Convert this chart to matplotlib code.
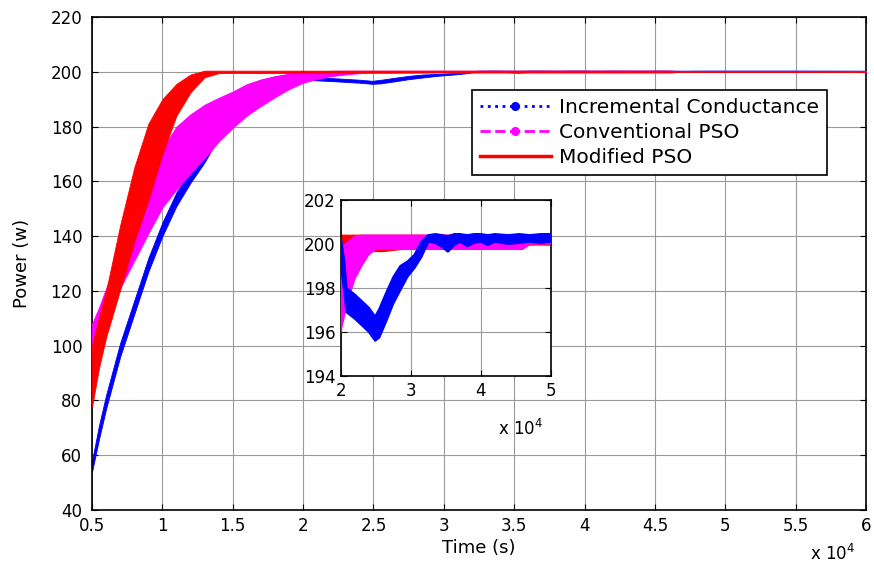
import numpy as np
import matplotlib
matplotlib.use("Agg")
import matplotlib.pyplot as plt
from matplotlib.lines import Line2D

# time stamps in seconds, power in watts (upper / lower envelope of each band)
ic_t = [5000, 5500, 6000, 7000, 8000, 9000, 10000, 11000, 12000, 13000, 14000, 15000,
        16000, 17000, 18000, 19000, 20000, 20500, 20800, 22000, 23000, 24000, 24900,
        25500, 26500, 27500, 28500, 29500, 30500, 31500, 32500, 33500, 34500, 35300,
        36200, 37000, 38100, 39000, 40000, 41000, 42000, 43900, 45500, 47000, 48500,
        50000, 55000, 60000]
ic_hi = [58, 71, 82, 101, 116.5, 132, 145, 156, 164.5, 172, 181, 188.5, 195, 197, 198.3,
         199.2, 200.3, 199.2, 198.0, 197.7, 197.4, 197.1, 196.7, 197.05, 197.8, 198.5,
         199.0, 199.2, 199.5, 200.1, 200.4, 200.45, 200.4, 200.35, 200.45, 200.45, 200.4,
         200.45, 200.45, 200.4, 200.45, 200.4, 200.45, 200.4, 200.45, 200.45, 200.45, 200.4]
ic_lo = [54, 66, 77, 96, 111.5, 127, 140, 151, 159.5, 167, 176, 184, 191, 195, 197.5,
         198.5, 199.0, 197.8, 196.9, 196.6, 196.3, 196.0, 195.6, 195.75, 196.5, 197.3,
         197.9, 198.5, 198.9, 199.4, 200.1, 200.05, 199.85, 199.65, 199.95, 200.1, 199.9,
         200.05, 200.1, 199.95, 200.1, 200.0, 200.05, 200.1, 200.05, 200.1, 200.1, 200.05]

pso_t = [5000, 5500, 6000, 7000, 8000, 9000, 10000, 11000, 12000, 13000, 14000, 15000,
         16000, 17000, 18000, 19000, 20000, 21000, 22000, 23000, 24000, 25000, 30000,
         35000, 40000, 46000, 47000, 50000, 55000, 60000]
pso_hi = [108, 114, 121, 134, 148, 161, 172, 180, 184.5, 188, 190.5, 192.8, 195.5, 197.2,
          198.4, 199.3, 199.8, 200.1, 200.35, 200.4, 200.4, 200.4, 200.4, 200.4, 200.4,
          200.4, 200.2, 200.2, 200.2, 200.2]
pso_lo = [97, 106, 111, 121, 131, 141, 150.5, 157, 163, 168.5, 174.5, 179.5, 184, 187.5,
          190.7, 193.7, 196.0, 197.4, 198.4, 199.0, 199.5, 199.75, 199.75, 199.75, 199.75,
          199.75, 200.0, 200.0, 200.0, 200.0]

mpso_t = [5000, 5500, 6000, 7000, 8000, 9000, 10000, 11000, 12000, 13000, 14000, 15000,
          17000, 19000, 21000, 26000, 30000, 40000, 46000, 47000, 50000, 60000]
mpso_hi = [100, 110.5, 120, 144, 165, 181, 190, 195.6, 199, 200.4, 200.4, 200.4, 200.4,
           200.4, 200.4, 200.4, 200.4, 200.4, 200.4, 200.2, 200.2, 200.2]
mpso_lo = [77.7, 92, 103, 120.5, 138, 153, 170, 184, 192.5, 198, 199.5, 199.6, 199.5,
           199.6, 199.7, 199.65, 199.8, 199.8, 199.8, 199.95, 199.95, 199.95]

x_ticks = [5000, 10000, 15000, 20000, 25000, 30000, 35000, 40000, 45000, 50000, 55000, 60000]
x_labels = ['0.5', '1', '1.5', '2', '2.5', '3', '3.5', '4', '4.5', '5', '5.5', '6']
y_ticks = [40, 60, 80, 100, 120, 140, 160, 180, 200, 220]
in_x_ticks = [20000, 30000, 40000, 50000]
in_x_labels = ['2', '3', '4', '5']
in_y_ticks = [194, 196, 198, 200, 202]

names = ['Incremental Conductance', 'Conventional PSO', 'Modified PSO']


def style(ax, size, xpad, ypad):
    ax.grid(True, color='0.6', lw=0.8)
    ax.set_axisbelow(True)
    ax.tick_params(direction='in', top=True, right=True, length=4, labelsize=size)
    ax.tick_params(axis='x', pad=xpad)
    ax.tick_params(axis='y', pad=ypad)
    for s in ax.spines.values():
        s.set_linewidth(1.2)


fig = plt.figure(figsize=(8.74, 5.70), dpi=100)
ax = fig.add_axes([0.1053, 0.1053, 0.8856, 0.8649])

ax.fill_between(ic_t, ic_lo, ic_hi, color='blue', lw=0.6, zorder=2)
ax.fill_between(pso_t, pso_lo, pso_hi, color='magenta', lw=0.6, zorder=3)
ax.fill_between(mpso_t, mpso_lo, mpso_hi, color='red', lw=0.6, zorder=4)

ax.set_xlim(5000, 60000)
ax.set_ylim(40, 220)
ax.set_xticks(x_ticks)
ax.set_xticklabels(x_labels)
ax.set_yticks(y_ticks)
style(ax, 12, 5, 7)
ax.set_xlabel('Time (s)', fontsize=13, labelpad=3)
ax.set_ylabel('Power (w)', fontsize=13, labelpad=14)
fig.text(0.927, 0.018, r'x 10$^{4}$', fontsize=12)

handles = [
    Line2D([], [], color='blue', ls=':', lw=2, marker='.', ms=11),
    Line2D([], [], color='magenta', ls='--', lw=2, marker='.', ms=11),
    Line2D([], [], color='red', ls='-', lw=2.5),
]
leg = ax.legend(handles, names, loc='upper left', bbox_to_anchor=(0.491, 0.852),
                fontsize=14.5, numpoints=1, handlelength=3.5, fancybox=False,
                edgecolor='black', framealpha=1, borderaxespad=0, labelspacing=0.3,
                borderpad=0.4, handletextpad=0.4)
leg.get_frame().set_linewidth(1.2)

# zoomed inset
ins = fig.add_axes([0.390, 0.3404, 0.2403, 0.3088])
ins.fill_between(mpso_t, mpso_lo, mpso_hi, color='red', lw=0.8, zorder=2)
ins.fill_between(pso_t, pso_lo, pso_hi, color='magenta', lw=0.8, zorder=3)
ins.fill_between(ic_t, ic_lo, ic_hi, color='blue', lw=1.5, zorder=4)
ins.set_xlim(20000, 50000)
ins.set_ylim(194, 202)
ins.set_xticks(in_x_ticks)
ins.set_xticklabels(in_x_labels)
ins.set_yticks(in_y_ticks)
style(ins, 12, 4, 4)
fig.text(0.570, 0.237, r'x 10$^{4}$', fontsize=12)

fig.savefig('out.png', dpi=100)
